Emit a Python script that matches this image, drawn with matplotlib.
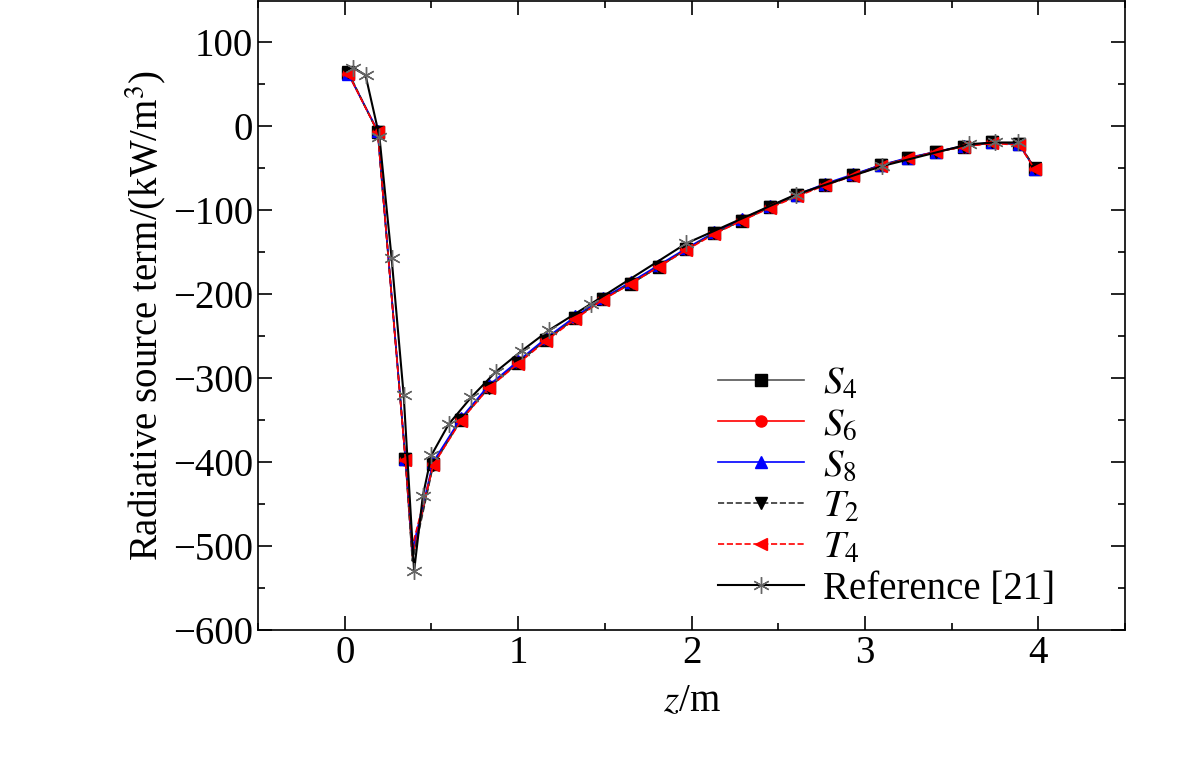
import matplotlib.pyplot as plt
import numpy as np

plt.rcParams['font.family'] = 'Liberation Serif'
plt.rcParams['mathtext.fontset'] = 'stix'

# DOM results (min point at z=0.39 has no marker)
z = [0.02, 0.19, 0.35, 0.39, 0.51, 0.67, 0.83, 1.0, 1.16, 1.33, 1.49, 1.65, 1.81, 1.97,
     2.13, 2.29, 2.45, 2.61, 2.77, 2.93, 3.09, 3.25, 3.41, 3.57, 3.73, 3.89, 3.98]
s4 = [63, -7, -397, -515, -403, -350, -311, -282, -255, -229, -206, -188, -168, -147,
      -128, -113, -97, -83, -70, -59, -47, -39, -31, -25, -20, -22, -51]
s6 = [62, -7, -398, -512, -402, -349, -311, -281, -254, -229, -206, -187, -167, -147,
      -128, -112, -97, -83, -70, -59, -47, -39, -31, -25, -20, -22, -51]
s8 = [62, -6, -396, -505, -400, -348, -309, -280, -253, -227, -205, -186, -166, -146,
      -127, -111, -96, -82, -69, -58, -47, -38, -31, -24, -20, -22, -52]
t2 = [64, -8, -397, -518, -404, -350, -312, -282, -255, -229, -206, -188, -168, -147,
      -128, -113, -97, -83, -70, -59, -47, -39, -31, -25, -20, -22, -50]
t4 = [62, -7, -398, -500, -404, -351, -312, -283, -256, -230, -207, -188, -168, -148,
      -129, -113, -98, -84, -71, -60, -48, -39, -31, -25, -21, -23, -52]

z_ref = [0.05, 0.12, 0.2, 0.27, 0.34, 0.40, 0.45, 0.5, 0.6, 0.73, 0.87, 1.02, 1.18, 1.42,
         1.97, 2.6, 3.1, 3.6, 3.75, 3.88]
ref = [69, 60, -13, -157, -321, -530, -441, -392, -355, -323, -293, -268, -243, -212,
       -140, -82, -48, -22, -20, -20]

marks = [i for i in range(len(z)) if i != 3]

fig = plt.figure(figsize=(11.81, 7.57), dpi=100)
ax = fig.add_axes([0.2185, 0.1678, 0.7341, 0.8305])

series = [
    (s4, '#555555', '-', 's', r'$S_4$'),
    (s6, 'red', '-', 'o', r'$S_6$'),
    (s8, 'blue', '-', '^', r'$S_8$'),
    (t2, '#333333', '--', 'v', r'$T_2$'),
    (t4, 'red', '--', '<', r'$T_4$'),
]
mcol = {'s': 'black', 'o': 'red', '^': 'blue', 'v': 'black', '<': 'red'}
for vals, col, ls, mk, lab in series:
    ax.plot(z, vals, color=col, ls=ls, lw=1.2, marker=mk, ms=8, markevery=marks,
            mfc=mcol[mk], mec=mcol[mk], label=lab)
ax.plot(z_ref, ref, color='black', lw=1.5, marker=(6, 2, 0), ms=12, mec='#666666',
        label='Reference [21]', ls='-')

ax.set_xlim(-0.5, 4.5)
ax.set_ylim(-600, 148)
ax.set_xticks([0, 1, 2, 3, 4])
ax.set_xticks(np.arange(-0.5, 4.6, 0.5), minor=True)
ax.set_yticks(np.arange(-600, 101, 100))
ax.set_yticks(np.arange(-600, 141, 50), minor=True)
ax.set_yticklabels(['\u2212600', '\u2212500', '\u2212400', '\u2212300', '\u2212200', '\u2212100', '0', '100'])
ax.tick_params(which='both', direction='in', top=True, right=True, labelsize=28, width=1.2)
ax.tick_params(which='major', length=10)
ax.tick_params(which='minor', length=5)
for sp in ax.spines.values():
    sp.set_linewidth(1.2)
ax.set_xlabel(r'$z$/m', fontsize=28, labelpad=8)
ax.set_ylabel(r'Radiative source term/(kW/m$^3$)', fontsize=28, labelpad=4)
ax.legend(loc='lower right', bbox_to_anchor=(0.96, -0.02), frameon=False, fontsize=28,
          handlelength=2.2, labelspacing=0.1, handletextpad=0.5)

plt.savefig('out.png', dpi=100)
